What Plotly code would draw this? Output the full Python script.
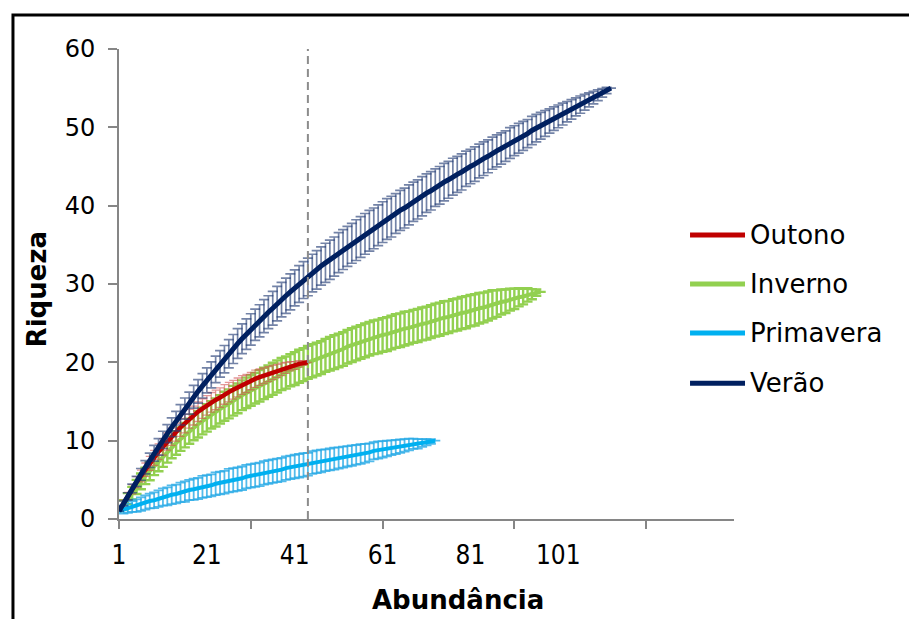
import plotly.graph_objects as go

# Rarefaction curves: expected richness (Riqueza) per abundance, with standard deviation
outono_riqueza = [
    1.0, 2.0, 2.9, 3.8, 4.7, 5.5, 6.3, 7.1, 7.8, 8.6,
    9.2, 9.9, 10.5, 11.1, 11.7, 12.2, 12.8, 13.2, 13.7, 14.1,
    14.5, 14.9, 15.2, 15.5, 15.9, 16.2, 16.5, 16.8, 17.1, 17.3,
    17.6, 17.9, 18.1, 18.3, 18.5, 18.7, 18.9, 19.1, 19.3, 19.5,
    19.6, 19.8, 19.9, 20.0,
]
outono_dp = [
    0.0, 0.4, 0.5, 0.6, 0.7, 0.75, 0.85, 0.9, 0.95, 1.0,
    1.05, 1.1, 1.1, 1.15, 1.15, 1.2, 1.2, 1.2, 1.25, 1.25,
    1.25, 1.25, 1.25, 1.25, 1.25, 1.25, 1.2, 1.2, 1.2, 1.15,
    1.1, 1.1, 1.05, 1.0, 0.95, 0.9, 0.85, 0.8, 0.7, 0.6,
    0.5, 0.4, 0.3, 0.0,
]

inverno_riqueza = [
    1.0, 1.8, 2.6, 3.3, 4.1, 4.8, 5.5, 6.1, 6.8, 7.4,
    8.0, 8.6, 9.2, 9.7, 10.2, 10.7, 11.2, 11.7, 12.1, 12.5,
    12.9, 13.3, 13.6, 14.0, 14.4, 14.7, 15.1, 15.4, 15.8, 16.1,
    16.4, 16.7, 17.0, 17.3, 17.6, 17.9, 18.2, 18.5, 18.7, 19.0,
    19.2, 19.5, 19.7, 20.0, 20.2, 20.4, 20.6, 20.9, 21.1, 21.3,
    21.5, 21.7, 22.0, 22.2, 22.4, 22.6, 22.8, 23.0, 23.2, 23.3,
    23.5, 23.6, 23.8, 24.0, 24.1, 24.3, 24.4, 24.6, 24.7, 24.9,
    25.0, 25.2, 25.4, 25.5, 25.7, 25.8, 26.0, 26.1, 26.3, 26.4,
    26.6, 26.7, 26.9, 27.0, 27.2, 27.4, 27.5, 27.7, 27.8, 28.0,
    28.1, 28.3, 28.4, 28.6, 28.7, 28.9, 29.0,
]
inverno_dp = [
    0.0, 0.6, 0.7, 0.8, 0.9, 1.0, 1.05, 1.15, 1.2, 1.3,
    1.35, 1.4, 1.45, 1.5, 1.5, 1.55, 1.6, 1.65, 1.7, 1.7,
    1.75, 1.75, 1.8, 1.8, 1.85, 1.85, 1.9, 1.9, 1.9, 1.95,
    1.95, 1.95, 2.0, 2.0, 2.0, 2.05, 2.05, 2.05, 2.05, 2.05,
    2.1, 2.1, 2.1, 2.1, 2.1, 2.1, 2.1, 2.1, 2.15, 2.15,
    2.15, 2.15, 2.15, 2.15, 2.15, 2.15, 2.15, 2.15, 2.15, 2.15,
    2.15, 2.15, 2.15, 2.15, 2.15, 2.15, 2.1, 2.1, 2.1, 2.1,
    2.1, 2.1, 2.1, 2.1, 2.1, 2.05, 2.05, 2.05, 2.05, 2.05,
    2.0, 2.0, 1.95, 1.9, 1.85, 1.8, 1.7, 1.6, 1.5, 1.4,
    1.3, 1.15, 1.0, 0.85, 0.65, 0.4, 0.0,
]

primavera_riqueza = [
    1.0, 1.2, 1.4, 1.6, 1.7, 1.9, 2.1, 2.3, 2.4, 2.6,
    2.8, 2.9, 3.1, 3.2, 3.4, 3.5, 3.7, 3.8, 3.9, 4.1,
    4.2, 4.3, 4.5, 4.6, 4.7, 4.9, 5.0, 5.1, 5.2, 5.4,
    5.5, 5.6, 5.7, 5.9, 6.0, 6.1, 6.2, 6.3, 6.5, 6.6,
    6.7, 6.8, 6.9, 7.0, 7.2, 7.3, 7.4, 7.5, 7.6, 7.7,
    7.8, 7.9, 8.0, 8.1, 8.2, 8.3, 8.4, 8.5, 8.7, 8.8,
    8.9, 9.0, 9.1, 9.2, 9.3, 9.4, 9.5, 9.6, 9.6, 9.7,
    9.8, 9.9, 10.0,
]
primavera_dp = [
    0.0, 0.5, 0.6, 0.7, 0.8, 0.85, 0.9, 0.95, 1.0, 1.05,
    1.1, 1.15, 1.2, 1.2, 1.25, 1.3, 1.3, 1.35, 1.35, 1.4,
    1.4, 1.4, 1.45, 1.45, 1.45, 1.5, 1.5, 1.5, 1.5, 1.5,
    1.5, 1.5, 1.5, 1.5, 1.5, 1.5, 1.5, 1.5, 1.5, 1.5,
    1.5, 1.5, 1.5, 1.45, 1.45, 1.45, 1.45, 1.4, 1.4, 1.4,
    1.35, 1.35, 1.3, 1.3, 1.25, 1.25, 1.2, 1.15, 1.1, 1.1,
    1.05, 1.0, 0.95, 0.9, 0.85, 0.8, 0.75, 0.65, 0.6, 0.5,
    0.4, 0.3, 0.0,
]

verao_riqueza = [
    1.0, 2.0, 2.9, 3.9, 4.8, 5.7, 6.6, 7.5, 8.4, 9.2,
    10.1, 10.9, 11.7, 12.5, 13.3, 14.1, 14.8, 15.6, 16.3, 17.0,
    17.7, 18.4, 19.1, 19.8, 20.4, 21.1, 21.7, 22.4, 23.0, 23.6,
    24.2, 24.8, 25.3, 25.9, 26.4, 26.9, 27.5, 28.0, 28.5, 29.0,
    29.5, 30.0, 30.5, 30.9, 31.4, 31.8, 32.3, 32.7, 33.1, 33.5,
    34.0, 34.4, 34.8, 35.2, 35.6, 36.0, 36.4, 36.8, 37.1, 37.5,
    37.9, 38.3, 38.6, 39.0, 39.4, 39.7, 40.1, 40.5, 40.8, 41.2,
    41.6, 41.9, 42.3, 42.6, 43.0, 43.3, 43.7, 44.0, 44.3, 44.7,
    45.0, 45.3, 45.7, 46.0, 46.3, 46.7, 47.0, 47.3, 47.6, 48.0,
    48.3, 48.6, 48.9, 49.2, 49.6, 49.9, 50.2, 50.5, 50.8, 51.1,
    51.4, 51.7, 52.0, 52.3, 52.6, 52.9, 53.2, 53.5, 53.8, 54.1,
    54.4, 54.7, 55.0,
]
verao_dp = [
    0.0, 0.3, 0.45, 0.55, 0.65, 0.75, 0.85, 0.9, 1.0, 1.05,
    1.1, 1.15, 1.2, 1.25, 1.3, 1.35, 1.4, 1.45, 1.5, 1.55,
    1.6, 1.65, 1.7, 1.7, 1.75, 1.8, 1.85, 1.9, 1.9, 1.95,
    2.0, 2.0, 2.05, 2.1, 2.1, 2.15, 2.2, 2.2, 2.25, 2.3,
    2.3, 2.35, 2.35, 2.4, 2.4, 2.45, 2.45, 2.5, 2.5, 2.5,
    2.55, 2.55, 2.55, 2.55, 2.6, 2.6, 2.6, 2.6, 2.6, 2.6,
    2.6, 2.6, 2.6, 2.55, 2.55, 2.55, 2.55, 2.5, 2.5, 2.5,
    2.45, 2.45, 2.4, 2.4, 2.4, 2.35, 2.35, 2.3, 2.3, 2.25,
    2.2, 2.2, 2.15, 2.15, 2.1, 2.05, 2.05, 2.0, 1.95, 1.95,
    1.9, 1.9, 1.85, 1.8, 1.8, 1.75, 1.7, 1.65, 1.55, 1.5,
    1.45, 1.4, 1.3, 1.25, 1.15, 1.1, 1.0, 0.9, 0.8, 0.7,
    0.55, 0.4, 0.0,
]

# Reference abundance marked by the dashed vertical line
corte_abundancia = [44, 44]
corte_riqueza = [0, 60]

x_ticklabels = [1, 21, 41, 61, 81, 101]
x_tickmarks = [1, 31, 61, 91, 121]
y_ticks = [0, 10, 20, 30, 40, 50, 60]

series = [
    # name, values, sd, line colour, error colour, line width, bar thickness, cap half-width
    ("Inverno", inverno_riqueza, inverno_dp, "#92D050", "rgba(146,208,80,1)", 4, 2.4, 5),
    ("Outono", outono_riqueza, outono_dp, "#C00000", "rgba(210,80,80,0.6)", 4.5, 1.3, 4),
    ("Primavera", primavera_riqueza, primavera_dp, "#00B0F0", "rgba(40,170,230,0.8)", 4, 1.8, 5),
    ("Verão", verao_riqueza, verao_dp, "#002060", "rgba(40,65,120,0.65)", 5, 1.7, 5),
]
legend_order = ["Outono", "Inverno", "Primavera", "Verão"]
legend_colors = {"Outono": "#C00000", "Inverno": "#92D050", "Primavera": "#00B0F0", "Verão": "#002060"}

fig = go.Figure()
for name, vals, sd, color, ecolor, lw, et, ew in series:
    fig.add_trace(go.Scatter(
        x=list(range(1, len(vals) + 1)),
        y=vals,
        mode="lines",
        name=name,
        line=dict(color=color, width=lw),
        error_y=dict(type="data", array=sd, visible=True, color=ecolor,
                     thickness=et, width=ew),
        showlegend=False,
    ))

fig.add_trace(go.Scatter(
    x=corte_abundancia, y=corte_riqueza, xaxis="x2", yaxis="y",
    mode="lines", line=dict(color="#8c8c8c", width=2, dash="8px,5px"),
    showlegend=False, hoverinfo="skip",
))

FONT = "DejaVu Sans, Verdana, sans-serif"
axis_grey = "#868686"

fig.update_layout(
    width=909, height=619,
    margin=dict(l=119, r=175, t=49, b=100),
    paper_bgcolor="white", plot_bgcolor="white",
    font=dict(family=FONT, color="black", size=24),
    xaxis=dict(
        range=[1, 141], tickvals=x_ticklabels, ticktext=[str(v) for v in x_ticklabels],
        ticks="", showgrid=False, zeroline=False,
        showline=True, linecolor=axis_grey, linewidth=2,
        tickfont=dict(family="DejaVu Sans Condensed, DejaVu Sans, sans-serif", size=26),
        ticklabelstandoff=12,
    ),
    xaxis2=dict(
        range=[1, 141], overlaying="x", side="bottom", matches="x",
        tickvals=x_tickmarks, ticks="outside", ticklen=9, tickwidth=2, tickcolor=axis_grey,
        showticklabels=False, showgrid=False, zeroline=False, showline=False,
    ),
    yaxis=dict(
        range=[0, 60], tickvals=y_ticks, ticks="outside", ticklen=9, tickwidth=2,
        tickcolor=axis_grey, showgrid=False, zeroline=False,
        showline=True, linecolor=axis_grey, linewidth=2,
        tickfont=dict(size=24), ticklabelstandoff=8,
    ),
)

# Axis titles
fig.add_annotation(text="<b>Abundância</b>", xref="paper", yref="paper",
                   x=0.551, y=-0.172, showarrow=False, font=dict(size=26),
                   xanchor="center", yanchor="middle")
fig.add_annotation(text="<b>Riqueza</b>", xref="paper", yref="paper",
                   x=-0.133, y=0.489, showarrow=False, font=dict(size=26),
                   textangle=-90, xanchor="center", yanchor="middle")

# Legend on the right
legend_y = [0.604, 0.5, 0.396, 0.289]
for name, yy in zip(legend_order, legend_y):
    fig.add_shape(type="line", xref="paper", yref="paper",
                  x0=0.9285, x1=1.0179, y0=yy, y1=yy,
                  line=dict(color=legend_colors[name], width=5))
    fig.add_annotation(text=name, xref="paper", yref="paper", x=1.0228, y=yy,
                       showarrow=False, xanchor="left", yanchor="middle",
                       font=dict(size=26))

# Chart frame
fig.add_shape(type="rect", xref="paper", yref="paper",
              x0=-0.1724, x1=2.0, y0=-1.0, y1=1.0723,
              line=dict(color="black", width=3), fillcolor="rgba(0,0,0,0)")

fig.write_html("out.html")
